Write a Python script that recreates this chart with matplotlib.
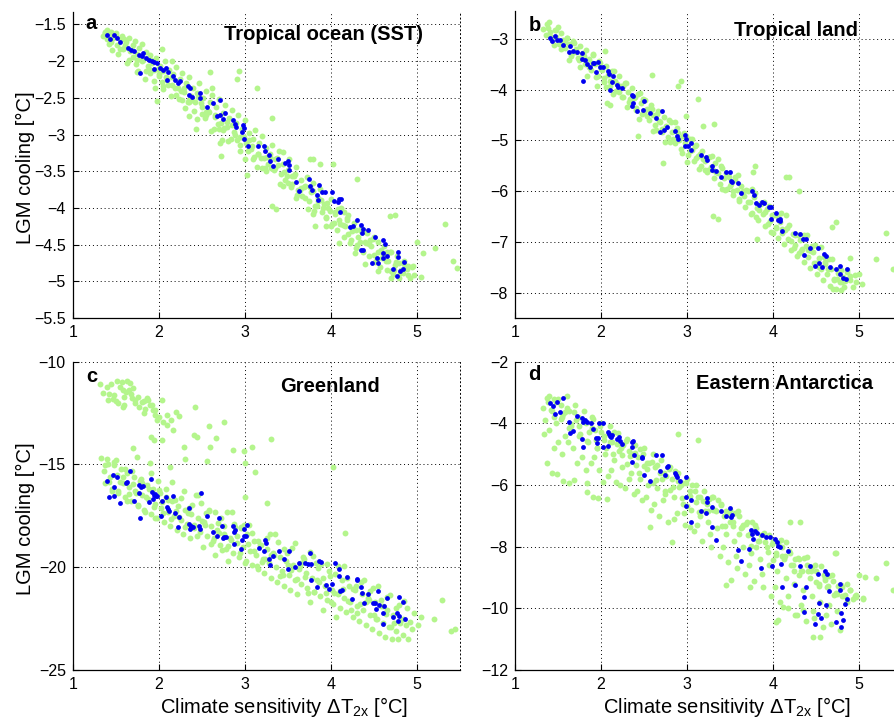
# LGM cooling vs climate sensitivity, four regions (scatter of ensemble members)

import matplotlib
matplotlib.use("Agg")
import matplotlib.pyplot as plt
from matplotlib.ticker import FuncFormatter

plt.rcParams["font.family"] = ["Liberation Sans", "DejaVu Sans"]
plt.rcParams["mathtext.fontset"] = "custom"
plt.rcParams["mathtext.rm"] = "Liberation Sans"
plt.rcParams["mathtext.it"] = "Liberation Sans"

GREEN = "#b4f58c"
BLUE = "#0000f0"

# ---- panel a: tropical ocean (SST) ----
a_blue = [(1.395,-1.65),(1.434,-1.695),(1.484,-1.65),(1.512,-1.69),(1.55,-1.74),(1.64,-1.82),(1.678,-1.85),
          (1.713,-1.864),(1.775,-1.91),(1.802,-1.93),(1.822,-1.895),(1.853,-1.955),(1.783,-2.168),(1.888,-1.986),
          (1.919,-2.0),(1.946,-2.014),(1.977,-2.023),(1.946,-2.105),(2.016,-2.09),(2.054,-2.114),(2.081,-2.09),
          (2.112,-2.15),(2.093,-2.25),(2.171,-2.205),(2.19,-2.25),(2.221,-2.295),(2.248,-2.273),(2.345,-2.34),
          (2.364,-2.364),(2.357,-2.455),(2.384,-2.49),(2.481,-2.43),(2.481,-2.5),(2.558,-2.623),(2.636,-2.568),
          (2.682,-2.75),(2.713,-2.727),(2.744,-2.786),(2.771,-2.705),(2.713,-2.523),(2.868,-2.795),(2.888,-2.85),
          (2.899,-2.895),(2.977,-2.864),(2.992,-2.91),(2.969,-2.968),(2.996,-3.059),(3.043,-3.15),(3.159,-3.159),
          (3.225,-3.15),(3.236,-3.227),(3.287,-3.273),(3.295,-3.364),(3.333,-3.432),(3.391,-3.34),(3.469,-3.386),
          (3.508,-3.36),(3.516,-3.41),(3.519,-3.477),(3.593,-3.65),(3.636,-3.768),(3.752,-3.605),(3.76,-3.705),
          (3.779,-3.76),(3.837,-3.818),(3.849,-3.886),(3.868,-3.682),(3.895,-3.786),(3.934,-3.786),(4.012,-3.786),
          (4.043,-3.905),(4.081,-3.923),(4.101,-3.877),(4.109,-4.05),(4.12,-3.877),(4.225,-4.259),(4.26,-4.25),
          (4.31,-4.159),(4.353,-4.232),(4.36,-4.34),(4.38,-4.286),(4.438,-4.305),(4.353,-4.577),(4.38,-4.577),
          (4.477,-4.75),(4.516,-4.395),(4.535,-4.682),(4.554,-4.75),(4.605,-4.44),(4.612,-4.614),(4.632,-4.486),
          (4.605,-4.682),(4.651,-4.65),(4.721,-4.832),(4.767,-4.932),(4.787,-4.605),(4.787,-4.668),(4.806,-4.864),
          (4.845,-4.832),(4.857,-4.741)]
a_green = [(1.35,-1.66),(1.38,-1.62),(1.40,-1.70),(1.43,-1.64),(1.45,-1.74),(1.47,-1.68),(1.50,-1.62),(1.52,-1.78),
           (1.55,-1.70),(1.57,-1.66),(1.60,-1.82),(1.62,-1.74),(1.65,-1.68),(1.67,-1.86),(1.70,-1.78),(1.72,-1.72),
           (1.75,-1.90),(1.77,-1.82),(1.80,-1.76),(1.82,-1.98),(1.85,-1.88),(1.87,-2.06),(1.90,-1.92),(1.92,-2.02),
           (1.95,-2.12),(1.97,-1.96),(2.00,-2.20),(2.02,-2.06),(2.05,-2.14),(2.07,-2.00),(2.10,-2.26),(2.12,-2.12),
           (2.15,-2.32),(2.17,-2.18),(2.20,-2.08),(2.22,-2.36),(2.25,-2.24),(2.27,-2.16),(2.30,-2.42),(2.32,-2.30),
           (2.35,-2.22),(2.37,-2.48),(2.40,-2.36),(2.42,-2.56),(2.45,-2.44),(2.47,-2.30),(2.50,-2.62),(2.52,-2.50),
           (2.55,-2.40),(2.57,-2.68),(2.60,-2.56),(2.62,-2.46),(2.65,-2.76),(2.67,-2.62),(2.70,-2.52),(2.72,-2.84),
           (2.75,-2.70),(2.77,-2.60),(2.80,-2.90),(2.82,-2.78),(2.85,-2.66),(2.87,-2.96),(2.90,-2.84),(2.92,-2.74),
           (2.95,-3.04),(2.97,-2.92),(3.00,-2.80),(3.02,-3.12),(3.05,-2.98),(3.07,-3.20),(3.10,-3.06),(3.12,-2.94),
           (3.15,-3.26),(3.17,-3.12),(3.20,-3.02),(3.22,-3.32),(3.25,-3.18),(3.27,-3.40),(3.30,-3.26),(3.32,-3.14),
           (3.35,-3.46),(3.37,-3.32),(3.40,-3.22),(3.42,-3.54),(3.45,-3.40),(3.47,-3.62),(3.50,-3.48),(3.52,-3.34),
           (3.55,-3.68),(3.57,-3.56),(3.60,-3.44),(3.62,-3.76),(3.65,-3.62),(3.67,-3.84),(3.70,-3.70),(3.72,-3.58),
           (3.75,-3.90),(3.77,-3.78),(3.80,-3.66),(3.82,-3.98),(3.85,-3.86),(3.87,-3.74),(3.90,-4.06),(3.92,-3.94),
           (3.95,-4.14),(3.97,-4.00),(4.00,-3.88),(4.02,-4.22),(4.05,-4.08),(4.07,-4.30),(4.10,-4.16),(4.12,-4.00),
           (4.15,-4.40),(4.17,-4.24),(4.20,-4.10),(4.22,-4.48),(4.25,-4.32),(4.27,-4.20),(4.30,-4.54),(4.32,-4.40),
           (4.35,-4.28),(4.37,-4.60),(4.40,-4.46),(4.42,-4.34),(4.45,-4.66),(4.47,-4.52),(4.50,-4.40),(4.52,-4.74),
           (4.55,-4.60),(4.57,-4.80),(4.60,-4.68),(4.62,-4.52),(4.65,-4.84),(4.67,-4.72),(4.70,-4.60),(4.72,-4.90),
           (4.75,-4.78),(4.77,-4.66),(4.80,-4.96),(4.82,-4.84),(4.85,-4.72),(4.88,-4.80),(4.90,-4.92),(4.95,-4.80),
           (1.45,-1.60),(1.60,-1.70),(1.75,-1.98),(1.90,-2.16),(2.05,-2.34),(2.15,-2.00),(2.35,-2.56),(2.55,-2.74),
           (2.62,-2.36),(2.75,-2.94),(2.95,-3.14),(3.10,-3.34),(3.25,-3.50),(3.45,-3.24),(3.60,-3.86),(3.80,-4.08),
           (3.95,-4.24),(4.10,-4.48),(4.28,-4.62),(4.40,-4.76),(4.55,-4.86),(4.70,-4.96),
           (2.035,-1.83),(2.597,-2.15),(2.938,-2.136),(2.907,-2.24),(3.14,-2.364),(2.713,-3.114),(2.725,-3.286),
           (3.031,-3.545),(3.314,-3.977),(3.364,-4.014),(3.818,-4.241),(4.186,-4.136),(4.302,-3.605),(4.69,-4.114),
           (4.748,-4.09),(5.329,-4.214),(5.213,-4.545),(5.078,-4.614),(5.419,-4.727),(5.473,-4.818),(5.0,-4.468),
           (5.047,-4.941),(4.961,-4.795),(4.903,-4.795),(1.977,-2.545),(1.744,-2.15),(2.349,-2.741),(2.438,-2.923),
           (2.267,-2.523),(3.76,-3.332),(3.80,-3.332),(4.03,-3.40),(3.87,-3.40),(3.314,-2.773)]
a_green_fill = [(1.37,-1.60),(1.42,-1.76),(1.48,-1.67),(1.53,-1.90),(1.58,-1.83),(1.63,-2.03),(1.69,-1.85),
                (1.74,-2.04),(1.79,-1.97),(1.84,-2.24),(1.89,-2.10),(1.94,-2.27),(1.99,-2.10),(2.04,-2.29),
                (2.09,-2.22),(2.14,-2.48),(2.19,-2.37),(2.24,-2.52),(2.29,-2.36),(2.34,-2.55),(2.39,-2.53),
                (2.44,-2.79),(2.49,-2.57),(2.54,-2.77),(2.59,-2.69),(2.64,-2.93),(2.69,-2.85),(2.74,-3.08),
                (2.79,-2.83),(2.84,-3.06),(2.89,-3.00),(2.94,-3.23),(2.99,-3.04),(3.04,-3.22),(3.09,-3.16),
                (3.14,-3.44),(3.19,-3.32),(3.24,-3.45),(3.29,-3.30),(3.34,-3.48),(3.39,-3.42),(3.44,-3.70),
                (3.49,-3.56),(3.54,-3.72),(3.59,-3.54),(3.64,-3.75),(3.69,-3.72),(3.74,-4.01),(3.79,-3.77),
                (3.84,-3.97),(3.89,-3.89),(3.94,-4.13),(3.99,-4.04),(4.04,-4.20),(4.09,-4.02),(4.14,-4.23),
                (4.19,-4.17),(4.24,-4.44),(4.29,-4.30),(4.34,-4.46),(4.39,-4.31),(4.44,-4.49),(4.49,-4.43),
                (4.54,-4.70),(4.59,-4.58),(4.64,-4.72),(4.69,-4.60),(4.74,-4.85),(4.79,-4.75),(4.84,-4.88),
                (4.89,-4.83),(4.97,-4.91),
                (1.395,-1.58),(1.455,-1.85),(1.505,-1.65),(1.555,-1.84),(1.605,-1.78),(1.655,-1.99),(1.705,-1.95),
                (1.755,-2.14),(1.805,-2.00),(1.855,-2.14),(1.905,-1.99),(1.955,-2.36),(2.005,-2.18),(2.055,-2.38),
                (2.105,-2.32),(2.155,-2.21),(2.205,-2.46),(2.255,-2.40),(2.305,-2.64),(2.355,-2.53),(2.405,-2.68),
                (2.455,-2.49),(2.505,-2.72),(2.555,-2.69),(2.605,-2.95),(2.655,-2.74),(2.705,-2.93),(2.755,-2.91),
                (2.805,-3.09),(2.855,-2.87),(2.905,-3.07),(2.955,-3.04),(3.005,-3.34),(3.055,-3.08),(3.105,-3.31),
                (3.155,-3.26),(3.205,-3.45),(3.255,-3.31),(3.305,-3.46),(3.355,-3.34),(3.405,-3.68),(3.455,-3.51),
                (3.505,-3.66),(3.555,-3.56),(3.605,-3.83),(3.655,-3.73),(3.705,-3.87),(3.755,-3.71),(3.805,-4.04),
                (3.855,-3.90),(3.905,-4.00),(3.955,-3.93),(4.005,-4.24),(4.055,-4.06),(4.105,-4.22),(4.155,-4.06),
                (4.205,-4.36),(4.255,-4.29),(4.305,-4.51),(4.355,-4.31),(4.405,-4.48),(4.455,-4.44),(4.505,-4.64),
                (4.555,-4.46),(4.605,-4.64),(4.655,-4.60),(4.705,-4.86),(4.755,-4.74),(4.805,-4.89),(4.855,-4.76),
                (4.925,-4.95)]

# ---- panel b: tropical land ----
b_blue = [(1.407,-2.987),(1.434,-3.033),(1.465,-2.934),(1.492,-3.026),(1.523,-3.026),(1.561,-3.118),(1.631,-3.25),
          (1.639,-3.145),(1.67,-3.23),(1.724,-3.263),(1.774,-3.283),(1.782,-3.395),(1.794,-3.822),(1.813,-3.408),
          (1.833,-3.493),(1.871,-3.559),(1.902,-3.474),(1.922,-3.48),(1.941,-3.645),(1.96,-3.461),(1.987,-3.559),
          (2.026,-3.559),(2.084,-3.625),(2.096,-3.691),(2.104,-4.007),(2.123,-3.855),(2.142,-3.737),(2.181,-3.908),
          (2.2,-3.954),(2.239,-3.974),(2.355,-4.105),(2.367,-4.132),(2.355,-4.329),(2.375,-4.263),(2.413,-4.421),
          (2.483,-4.401),(2.499,-4.217),(2.568,-4.461),(2.638,-4.553),(2.684,-4.829),(2.715,-4.414),(2.731,-4.789),
          (2.77,-4.743),(2.866,-4.816),(2.878,-4.921),(2.897,-4.974),(2.975,-4.895),(2.986,-4.974),(2.975,-5.105),
          (3.014,-5.105),(3.045,-5.059),(3.045,-5.184),(3.161,-5.289),(3.219,-5.336),(3.227,-5.388),(3.285,-5.513),
          (3.296,-5.579),(3.343,-5.599),(3.397,-5.717),(3.459,-5.618),(3.505,-5.632),(3.517,-5.796),(3.529,-5.829),
          (3.598,-5.849),(3.633,-6.046),(3.757,-5.993),(3.776,-6.079),(3.8,-6.237),(3.838,-6.276),(3.869,-6.211),
          (3.896,-6.224),(3.955,-6.303),(3.982,-6.322),(3.982,-6.553),(4.04,-6.421),(4.059,-6.566),(4.078,-6.553),
          (4.086,-6.592),(4.106,-6.783),(4.253,-6.816),(4.311,-6.836),(4.349,-6.947),(4.388,-6.934),(4.435,-7.112),
          (4.361,-7.263),(4.524,-7.118),(4.493,-7.474),(4.535,-7.408),(4.574,-7.487),(4.59,-7.243),(4.613,-7.276),
          (4.659,-7.487),(4.737,-7.526),(4.775,-7.474),(4.783,-7.638),(4.814,-7.704),(4.845,-7.737),(4.864,-7.539)]
b_green = [(1.33,-2.80),(1.36,-2.92),(1.38,-2.78),(1.41,-2.86),(1.43,-3.02),(1.46,-2.82),(1.48,-2.96),(1.51,-3.10),
           (1.53,-2.88),(1.56,-3.02),(1.58,-3.18),(1.61,-2.98),(1.63,-3.10),(1.66,-3.28),(1.68,-3.04),(1.71,-3.20),
           (1.73,-3.38),(1.76,-3.14),(1.78,-3.30),(1.81,-3.50),(1.83,-3.22),(1.86,-3.40),(1.88,-3.62),(1.91,-3.32),
           (1.93,-3.50),(1.96,-3.74),(1.98,-3.44),(2.01,-3.62),(2.03,-3.84),(2.06,-3.54),(2.08,-3.72),(2.11,-3.92),
           (2.13,-3.64),(2.16,-3.82),(2.18,-4.02),(2.21,-3.74),(2.23,-3.92),(2.26,-4.14),(2.28,-3.86),(2.31,-4.04),
           (2.33,-4.24),(2.36,-3.96),(2.38,-4.16),(2.41,-4.36),(2.43,-4.08),(2.46,-4.26),(2.48,-4.48),(2.51,-4.20),
           (2.53,-4.38),(2.56,-4.60),(2.58,-4.30),(2.61,-4.50),(2.63,-4.70),(2.66,-4.42),(2.68,-4.62),(2.71,-4.84),
           (2.73,-4.54),(2.76,-4.72),(2.78,-4.94),(2.81,-4.64),(2.83,-4.84),(2.86,-5.06),(2.88,-4.76),(2.91,-4.96),
           (2.93,-5.16),(2.96,-4.86),(2.98,-5.06),(3.01,-5.28),(3.03,-4.98),(3.06,-5.18),(3.08,-5.40),(3.11,-5.10),
           (3.13,-5.30),(3.16,-5.50),(3.18,-5.20),(3.21,-5.40),(3.23,-5.62),(3.26,-5.32),(3.28,-5.52),(3.31,-5.74),
           (3.33,-5.44),(3.36,-5.64),(3.38,-5.86),(3.41,-5.54),(3.43,-5.74),(3.46,-5.96),(3.48,-5.66),(3.51,-5.86),
           (3.53,-6.08),(3.56,-5.78),(3.58,-5.98),(3.61,-6.20),(3.63,-5.90),(3.66,-6.10),(3.68,-6.32),(3.71,-6.00),
           (3.73,-6.22),(3.76,-6.44),(3.78,-6.12),(3.81,-6.34),(3.83,-6.56),(3.86,-6.24),(3.88,-6.46),(3.91,-6.68),
           (3.93,-6.36),(3.96,-6.58),(3.98,-6.80),(4.01,-6.48),(4.03,-6.70),(4.06,-6.92),(4.08,-6.60),(4.11,-6.82),
           (4.13,-7.04),(4.16,-6.72),(4.18,-6.94),(4.21,-7.16),(4.23,-6.84),(4.26,-7.06),(4.28,-7.28),(4.31,-6.96),
           (4.33,-7.18),(4.36,-7.40),(4.38,-7.08),(4.41,-7.30),(4.43,-7.52),(4.46,-7.20),(4.48,-7.42),(4.51,-7.64),
           (4.53,-7.32),(4.56,-7.54),(4.58,-7.76),(4.61,-7.44),(4.63,-7.64),(4.66,-7.86),(4.68,-7.54),(4.71,-7.74),
           (4.73,-7.92),(4.76,-7.62),(4.78,-7.80),(4.81,-7.70),(4.83,-7.88),(4.86,-7.60),(4.90,-7.76),(4.95,-7.66),
           (2.588,-3.71),(2.936,-3.822),(2.897,-3.934),(3.13,-4.184),(3.316,-4.678),(2.073,-4.27),(2.10,-4.30),
           (2.43,-4.91),(2.72,-5.45),(3.30,-6.49),(3.36,-6.55),(3.815,-6.934),(4.30,-5.99),(4.737,-6.605),
           (4.69,-6.70),(5.317,-6.816),(5.2,-7.33),(5.40,-7.54),(5.04,-7.836),(5.0,-7.625),(4.89,-7.31),(4.70,-7.93),
           (4.79,-7.95),(3.79,-5.50),(3.77,-5.63),(4.19,-5.73),(4.15,-5.72),(3.188,-4.724),(2.994,-4.526),
           (2.045,-3.23)]
b_green_fill = [(1.37,-2.71),(1.42,-2.97),(1.48,-2.82),(1.53,-3.19),(1.58,-3.06),(1.63,-3.41),(1.69,-3.08),
                (1.74,-3.41),(1.79,-3.27),(1.84,-3.73),(1.89,-3.48),(1.94,-3.76),(1.99,-3.47),(2.04,-3.78),
                (2.09,-3.66),(2.14,-4.09),(2.19,-3.89),(2.24,-4.15),(2.29,-3.86),(2.34,-4.19),(2.39,-4.14),
                (2.44,-4.57),(2.49,-4.19),(2.54,-4.52),(2.59,-4.39),(2.64,-4.79),(2.69,-4.63),(2.74,-5.03),
                (2.79,-4.59),(2.84,-4.98),(2.89,-4.86),(2.94,-5.24),(2.99,-4.92),(3.04,-5.21),(3.09,-5.11),
                (3.14,-5.57),(3.19,-5.36),(3.24,-5.58),(3.29,-5.31),(3.34,-5.62),(3.39,-5.50),(3.44,-5.97),
                (3.49,-5.73),(3.54,-5.99),(3.59,-5.68),(3.64,-6.03),(3.69,-5.98),(3.74,-6.46),(3.79,-6.03),
                (3.84,-6.38),(3.89,-6.22),(3.94,-6.64),(3.99,-6.47),(4.04,-6.73),(4.09,-6.43),(4.14,-6.77),
                (4.19,-6.67),(4.24,-7.12),(4.29,-6.86),(4.34,-7.14),(4.39,-6.87),(4.44,-7.17),(4.49,-7.06),
                (4.54,-7.50),(4.59,-7.30),(4.64,-7.53),(4.69,-7.33),(4.74,-7.74),(4.79,-7.55),(4.84,-7.78),
                (4.89,-7.68),(4.97,-7.79),
                (1.395,-2.66),(1.455,-3.12),(1.505,-2.77),(1.555,-3.09),(1.605,-2.98),(1.655,-3.34),(1.705,-3.25),
                (1.755,-3.56),(1.805,-3.33),(1.855,-3.55),(1.905,-3.30),(1.955,-3.92),(2.005,-3.60),(2.055,-3.94),
                (2.105,-3.82),(2.155,-3.64),(2.205,-4.05),(2.255,-3.93),(2.305,-4.34),(2.355,-4.14),(2.405,-4.40),
                (2.455,-4.06),(2.505,-4.44),(2.555,-4.39),(2.605,-4.82),(2.655,-4.47),(2.705,-4.77),(2.755,-4.73),
                (2.805,-5.03),(2.855,-4.64),(2.905,-4.99),(2.955,-4.92),(3.005,-5.42),(3.055,-4.98),(3.105,-5.35),
                (3.155,-5.27),(3.205,-5.59),(3.255,-5.33),(3.305,-5.59),(3.355,-5.37),(3.405,-5.95),(3.455,-5.65),
                (3.505,-5.89),(3.555,-5.72),(3.605,-6.16),(3.655,-6.00),(3.705,-6.22),(3.755,-5.95),(3.805,-6.50),
                (3.855,-6.25),(3.905,-6.42),(3.955,-6.29),(4.005,-6.82),(4.055,-6.50),(4.105,-6.75),(4.155,-6.48),
                (4.205,-6.98),(4.255,-6.86),(4.305,-7.22),(4.355,-6.87),(4.405,-7.16),(4.455,-7.08),(4.505,-7.42),
                (4.555,-7.11),(4.605,-7.40),(4.655,-7.33),(4.705,-7.76),(4.755,-7.56),(4.805,-7.80),(4.855,-7.56),
                (4.925,-7.88)]

# ---- panel c: Greenland ----
c_blue = [(1.403,-15.805),(1.426,-16.567),(1.465,-15.513),(1.481,-16.535),(1.481,-16.113),(1.512,-15.627),
          (1.55,-16.859),(1.62,-15.886),(1.667,-15.302),(1.628,-15.838),(1.713,-16.762),(1.775,-16.0),(1.775,-16.373),
          (1.783,-17.589),(1.798,-16.081),(1.822,-16.048),(1.884,-16.843),(1.907,-15.724),(1.919,-16.324),
          (1.938,-16.697),(1.95,-16.486),(1.957,-16.454),(1.969,-16.535),(1.984,-16.535),(2.035,-16.762),
          (2.023,-17.491),(2.085,-16.567),(2.093,-17.086),(2.112,-17.183),(2.12,-17.248),(2.171,-16.535),
          (2.19,-17.378),(2.225,-18.027),(2.24,-17.54),(2.357,-17.135),(2.357,-17.897),(2.364,-18.156),(2.372,-18.059),
          (2.38,-17.994),(2.395,-18.059),(2.473,-17.994),(2.481,-18.124),(2.488,-16.373),(2.558,-17.508),
          (2.636,-18.302),(2.705,-17.589),(2.682,-18.481),(2.736,-17.994),(2.752,-18.594),(2.76,-18.513),
          (2.779,-18.546),(2.868,-17.994),(2.876,-18.27),(2.876,-18.87),(2.891,-18.189),(2.961,-19.129),(2.969,-18.675),
          (2.992,-18.481),(2.996,-18.156),(3.016,-18.481),(3.031,-17.945),(3.171,-19.048),(3.225,-19.194),
          (3.236,-18.675),(3.244,-18.838),(3.287,-19.583),(3.295,-19.891),(3.333,-19.454),(3.395,-19.194),
          (3.461,-19.616),(3.508,-20.07),(3.512,-19.194),(3.585,-19.973),(3.628,-19.81),(3.705,-19.81),(3.74,-19.859),
          (3.76,-19.324),(3.775,-20.621),(3.771,-19.843),(3.845,-20.945),(3.86,-19.697),(3.884,-19.762),(3.946,-20.864),
          (3.984,-21.075),(4.019,-20.832),(4.05,-19.81),(4.093,-20.102),(4.093,-20.427),(4.112,-21.156),(4.128,-21.124),
          (4.186,-20.459),(4.248,-21.562),(4.302,-20.556),(4.31,-20.621),(4.353,-20.978),(4.36,-21.254),(4.391,-21.724),
          (4.438,-21.302),(4.488,-21.756),(4.516,-21.724),(4.527,-22.048),(4.547,-21.156),(4.566,-21.837),
          (4.605,-22.21),(4.605,-22.762),(4.624,-21.886),(4.651,-21.513),(4.721,-22.437),(4.767,-22.21),(4.779,-22.616),
          (4.795,-21.432),(4.798,-22.372),(4.837,-21.675),(4.864,-22.535)]
c_green = [(1.33,-14.70),(1.36,-15.30),(1.38,-15.90),(1.41,-15.00),(1.43,-15.60),(1.46,-16.20),(1.48,-14.90),
           (1.51,-15.50),(1.53,-16.40),(1.56,-15.20),(1.58,-15.90),(1.61,-16.60),(1.63,-15.40),(1.66,-16.10),
           (1.68,-16.80),(1.71,-15.60),(1.73,-16.30),(1.76,-17.00),(1.78,-15.80),(1.81,-16.50),(1.83,-17.20),
           (1.86,-16.00),(1.88,-16.70),(1.91,-17.40),(1.93,-16.20),(1.96,-16.90),(1.98,-17.60),(2.01,-16.40),
           (2.03,-17.10),(2.06,-17.80),(2.08,-16.60),(2.11,-17.30),(2.13,-18.00),(2.16,-16.80),(2.18,-17.50),
           (2.21,-18.20),(2.23,-17.00),(2.26,-17.70),(2.28,-18.40),(2.31,-17.20),(2.33,-17.90),(2.36,-18.60),
           (2.38,-17.40),(2.41,-18.10),(2.43,-16.50),(2.46,-17.60),(2.48,-18.30),(2.51,-19.00),(2.53,-17.80),
           (2.56,-18.50),(2.58,-17.20),(2.61,-18.00),(2.63,-18.70),(2.66,-19.40),(2.68,-18.20),(2.71,-18.90),
           (2.73,-17.60),(2.76,-18.40),(2.78,-19.10),(2.81,-19.70),(2.83,-18.60),(2.86,-19.30),(2.88,-17.90),
           (2.91,-18.80),(2.93,-19.50),(2.96,-18.10),(2.98,-19.00),(3.01,-19.70),(3.03,-18.40),(3.06,-19.20),
           (3.08,-19.90),(3.11,-18.70),(3.13,-19.40),(3.16,-20.10),(3.18,-18.90),(3.21,-19.60),(3.23,-20.30),
           (3.26,-19.10),(3.28,-19.80),(3.31,-20.50),(3.33,-19.30),(3.36,-20.00),(3.38,-20.70),(3.41,-19.50),
           (3.43,-20.20),(3.46,-20.90),(3.48,-19.70),(3.51,-20.40),(3.53,-21.10),(3.56,-19.90),(3.58,-20.60),
           (3.61,-21.30),(3.63,-20.10),(3.66,-20.80),(3.68,-19.50),(3.71,-20.30),(3.73,-21.00),(3.76,-21.70),
           (3.78,-20.50),(3.81,-21.20),(3.83,-19.80),(3.86,-20.70),(3.88,-21.40),(3.91,-22.10),(3.93,-20.90),
           (3.96,-21.60),(3.98,-20.20),(4.01,-21.10),(4.03,-21.80),(4.06,-22.40),(4.08,-21.30),(4.11,-22.00),
           (4.13,-20.60),(4.16,-21.50),(4.18,-22.20),(4.21,-20.90),(4.23,-21.70),(4.26,-22.40),(4.28,-21.10),
           (4.31,-21.90),(4.33,-22.60),(4.36,-21.30),(4.38,-22.10),(4.41,-22.80),(4.43,-21.50),(4.46,-22.30),
           (4.48,-23.00),(4.51,-21.70),(4.53,-22.50),(4.56,-23.20),(4.58,-21.90),(4.61,-22.70),(4.63,-23.40),
           (4.66,-22.10),(4.68,-22.90),(4.71,-23.50),(4.73,-22.30),(4.76,-23.10),(4.78,-23.50),(4.81,-22.60),
           (4.84,-23.30),(4.87,-22.80),(4.90,-23.50),(4.95,-23.00),(5.02,-22.80),(5.05,-22.40),(5.20,-22.50),
           (5.40,-23.10),(5.45,-23.00),(5.30,-21.60),
           (1.318,-11.09),(1.395,-11.22),(1.512,-10.92),(1.57,-10.97),(1.59,-11.38),(1.62,-11.46),(1.65,-11.38),
           (1.667,-11.02),(1.415,-11.86),(1.465,-11.83),(1.53,-12.03),(1.597,-12.11),(1.686,-11.78),(1.725,-11.86),
           (1.775,-12.19),(1.83,-11.90),(1.86,-11.78),(1.90,-12.11),(1.93,-12.35),(1.957,-12.59),(1.977,-12.84),
           (2.035,-11.86),(2.093,-13.08),(2.14,-12.84),(2.20,-12.43),(2.24,-12.64),(2.42,-12.19),(2.44,-13.65),
           (2.41,-13.57),(1.94,-13.81),(1.91,-13.65),(2.035,-13.81),(2.17,-13.32),(2.29,-14.13),(2.59,-13.13),
           (2.667,-13.70),(2.76,-12.92),(2.60,-14.13),(2.868,-14.30),(2.99,-14.33),(3.09,-14.13),(3.31,-13.75),
           (3.00,-14.95),(3.12,-15.38),(2.31,-14.75),(1.705,-14.22),(1.744,-14.62),(1.90,-14.95),(2.13,-15.14),
           (2.56,-14.82),(4.03,-15.11),(3.00,-16.57),(3.256,-16.86),(4.17,-18.35),
           (1.35,-11.50),(1.44,-11.10),(1.48,-11.60),(1.55,-11.25),(1.60,-11.70),(1.63,-10.95),(1.68,-11.55),
           (1.72,-12.00),(1.76,-11.70),(1.80,-11.95),(1.84,-12.30),(1.88,-11.85),(1.92,-12.10),(1.96,-12.35),
           (2.00,-12.70),(1.50,-11.90),(1.42,-11.55),(1.58,-12.20),(1.70,-11.30),(1.83,-12.50),(2.05,-12.95),
           (2.10,-12.60)]
c_green_fill = [(1.37,-15.01),(1.42,-15.83),(1.48,-15.04),(1.53,-16.31),(1.58,-15.63),(1.63,-16.77),(1.69,-15.33),
                (1.74,-16.41),(1.79,-15.72),(1.84,-17.32),(1.89,-16.18),(1.94,-17.07),(1.99,-15.80),(2.04,-16.81),
                (2.09,-16.19),(2.14,-17.66),(2.19,-16.72),(2.24,-17.54),(2.29,-16.27),(2.34,-17.35),(2.39,-16.99),
                (2.44,-18.46),(2.49,-16.86),(2.54,-17.94),(2.59,-17.26),(2.64,-18.60),(2.69,-17.85),(2.74,-19.18),
                (2.79,-17.33),(2.84,-18.67),(2.89,-18.05),(2.94,-19.33),(2.99,-17.93),(3.04,-18.88),(3.09,-18.32),
                (3.14,-19.92),(3.19,-18.91),(3.24,-19.60),(3.29,-18.40),(3.34,-19.41),(3.39,-18.79),(3.44,-20.39),
                (3.49,-19.32),(3.54,-20.14),(3.59,-18.80),(3.64,-19.95),(3.69,-19.59),(3.74,-21.25),(3.79,-19.46),
                (3.84,-20.61),(3.89,-19.86),(3.94,-21.26),(3.99,-20.45),(4.04,-21.27),(4.09,-19.93),(4.14,-21.08),
                (4.19,-20.52),(4.24,-22.06),(4.29,-20.92),(4.34,-21.80),(4.39,-20.60),(4.44,-21.61),(4.49,-20.99),
                (4.54,-22.53),(4.59,-21.58),(4.64,-22.27),(4.69,-21.33),(4.74,-22.73),(4.79,-21.85),(4.84,-22.54),
                (4.89,-21.99),(4.97,-22.21),
                (1.395,-14.74),(1.455,-16.29),(1.505,-14.76),(1.555,-15.84),(1.605,-15.22),(1.655,-16.43),
                (1.705,-15.94),(1.755,-16.96),(1.805,-15.88),(1.855,-16.57),(1.905,-15.43),(1.955,-17.61),
                (2.005,-16.22),(2.055,-17.36),(2.105,-16.74),(2.155,-15.87),(2.205,-17.27),(2.255,-16.65),
                (2.305,-18.06),(2.355,-17.11),(2.405,-17.93),(2.455,-16.47),(2.505,-17.74),(2.555,-17.38),
                (2.605,-18.85),(2.655,-17.32),(2.705,-18.34),(2.755,-17.98),(2.805,-18.99),(2.855,-17.33),
                (2.905,-18.48),(2.955,-18.05),(3.005,-19.78),(3.055,-17.93),(3.105,-19.20),(3.155,-18.71),
                (3.205,-19.73),(3.255,-18.59),(3.305,-19.41),(3.355,-18.40),(3.405,-20.45),(3.455,-19.12),
                (3.505,-19.87),(3.555,-19.06),(3.605,-20.59),(3.655,-19.78),(3.705,-20.47),(3.755,-19.26),
                (3.805,-21.19),(3.855,-20.05),(3.905,-20.54),(3.955,-19.86),(4.005,-21.71),(4.055,-20.32),
                (4.105,-21.14),(4.155,-19.93),(4.205,-21.66),(4.255,-21.04),(4.305,-22.25),(4.355,-20.72),
                (4.405,-21.67),(4.455,-21.18),(4.505,-22.33),(4.555,-20.93),(4.605,-21.88),(4.655,-21.45),
                (4.705,-22.92),(4.755,-21.98),(4.805,-22.73),(4.855,-21.66),(4.925,-22.65)]

# ---- panel d: Eastern Antarctica ----
d_blue = [(1.407,-3.351),(1.438,-3.438),(1.484,-3.308),(1.469,-3.697),(1.523,-3.632),(1.554,-3.178),(1.631,-3.957),
          (1.639,-4.324),(1.67,-4.238),(1.716,-3.762),(1.774,-3.816),(1.786,-3.946),(1.778,-4.497),(1.794,-4.757),
          (1.817,-3.892),(1.833,-3.968),(1.887,-3.978),(1.91,-4.195),(1.941,-4.486),(1.956,-4.649),(1.968,-4.465),
          (1.98,-3.989),(2.026,-4.0),(2.026,-4.778),(2.08,-4.27),(2.096,-4.346),(2.104,-4.4),(2.08,-4.735),
          (2.111,-4.454),(2.123,-4.389),(2.181,-4.519),(2.212,-4.432),(2.22,-4.562),(2.239,-4.67),(2.355,-4.778),
          (2.363,-4.616),(2.367,-4.573),(2.355,-5.243),(2.382,-5.027),(2.471,-5.135),(2.479,-5.081),(2.499,-5.686),
          (2.568,-5.881),(2.638,-5.038),(2.684,-5.557),(2.715,-5.038),(2.742,-5.676),(2.762,-5.405),(2.781,-5.384),
          (2.859,-5.6),(2.87,-5.686),(2.886,-5.751),(2.917,-5.859),(2.986,-5.73),(2.994,-6.378),(2.994,-6.67),
          (3.041,-6.486),(3.052,-7.189),(3.157,-6.832),(3.219,-6.919),(3.227,-6.411),(3.234,-6.562),(3.288,-6.703),
          (3.296,-7.373),(3.343,-7.784),(3.397,-6.832),(3.459,-6.995),(3.505,-6.735),(3.517,-7.027),(3.529,-6.962),
          (3.594,-8.108),(3.633,-8.454),(3.722,-8.076),(3.749,-7.459),(3.761,-7.589),(3.769,-7.762),(3.792,-7.481),
          (3.815,-7.568),(3.862,-8.681),(3.877,-7.622),(3.916,-7.676),(3.962,-7.697),(3.986,-8.627),(4.021,-7.762),
          (4.051,-7.838),(4.059,-7.978),(4.086,-8.0),(4.098,-8.562),(4.106,-9.319),(4.175,-8.141),(4.253,-9.254),
          (4.311,-8.627),(4.361,-9.622),(4.361,-10.108),(4.388,-9.297),(4.427,-8.627),(4.485,-10.508),(4.524,-8.886),
          (4.535,-9.838),(4.524,-10.184),(4.562,-10.303),(4.601,-8.778),(4.613,-9.903),(4.628,-8.886),(4.652,-9.427),
          (4.775,-9.211),(4.783,-9.405),(4.795,-10.141),(4.795,-10.595),(4.814,-10.378),(4.834,-9.859),(4.864,-9.686),
          (4.737,-10.432)]
d_green = [(1.33,-3.50),(1.35,-3.90),(1.38,-3.30),(1.40,-4.20),(1.43,-3.60),(1.45,-3.20),(1.48,-4.00),(1.50,-4.60),
           (1.53,-3.40),(1.55,-3.80),(1.58,-4.40),(1.60,-3.10),(1.63,-3.60),(1.65,-4.10),(1.68,-4.80),(1.70,-3.40),
           (1.73,-3.80),(1.75,-4.40),(1.78,-5.10),(1.80,-3.60),(1.83,-4.00),(1.85,-4.60),(1.88,-5.30),(1.90,-3.80),
           (1.93,-4.20),(1.95,-4.80),(1.98,-5.50),(2.00,-4.00),(2.03,-4.40),(2.05,-5.00),(2.08,-5.70),(2.10,-4.10),
           (2.13,-4.60),(2.15,-5.20),(2.18,-5.90),(2.20,-4.30),(2.23,-4.80),(2.25,-5.40),(2.28,-6.10),(2.30,-4.50),
           (2.33,-4.90),(2.35,-5.60),(2.38,-6.30),(2.40,-4.70),(2.43,-5.10),(2.45,-5.80),(2.48,-6.50),(2.50,-4.80),
           (2.53,-5.30),(2.55,-6.00),(2.58,-6.80),(2.60,-5.00),(2.63,-5.40),(2.65,-6.10),(2.68,-7.00),(2.70,-5.20),
           (2.73,-5.60),(2.75,-6.30),(2.78,-7.20),(2.80,-5.40),(2.83,-5.80),(2.85,-6.40),(2.88,-6.90),(2.90,-5.60),
           (2.93,-6.00),(2.95,-6.60),(2.98,-7.30),(3.00,-5.80),(3.03,-6.20),(3.05,-6.80),(3.08,-7.50),(3.10,-6.00),
           (3.13,-6.40),(3.15,-7.00),(3.18,-7.80),(3.20,-6.20),(3.23,-6.60),(3.25,-7.20),(3.28,-8.00),(3.30,-6.40),
           (3.33,-6.80),(3.35,-7.40),(3.38,-8.30),(3.40,-6.60),(3.43,-7.00),(3.45,-7.60),(3.48,-8.50),(3.50,-6.80),
           (3.53,-7.20),(3.55,-7.80),(3.58,-8.70),(3.60,-7.00),(3.63,-7.40),(3.65,-8.00),(3.68,-8.90),(3.70,-7.20),
           (3.73,-7.60),(3.75,-8.20),(3.78,-9.10),(3.80,-7.40),(3.83,-7.80),(3.85,-8.40),(3.88,-9.30),(3.90,-7.60),
           (3.93,-8.00),(3.95,-8.60),(3.98,-9.60),(4.00,-7.80),(4.03,-8.20),(4.05,-8.80),(4.08,-9.80),(4.10,-8.00),
           (4.13,-8.40),(4.15,-9.00),(4.18,-10.00),(4.20,-8.20),(4.23,-8.60),(4.25,-9.20),(4.28,-10.20),(4.30,-8.40),
           (4.33,-8.80),(4.35,-9.40),(4.38,-10.40),(4.40,-8.60),(4.43,-9.00),(4.45,-9.60),(4.48,-10.30),(4.50,-8.80),
           (4.53,-9.20),(4.55,-9.80),(4.58,-10.60),(4.60,-9.00),(4.63,-9.30),(4.65,-9.90),(4.68,-10.50),(4.70,-9.10),
           (4.73,-9.50),(4.75,-10.10),(4.78,-10.70),(4.80,-9.30),(4.83,-9.60),(4.86,-9.80),(4.90,-9.40),(4.95,-9.60),
           (5.05,-9.70),
           (1.337,-4.357),(1.368,-5.276),(1.426,-5.622),(1.492,-5.643),(1.561,-5.859),(1.631,-5.946),(1.685,-5.838),
           (1.833,-5.946),(1.91,-6.378),(1.968,-6.432),(2.065,-6.465),(1.84,-6.216),(2.897,-4.346),(3.13,-4.54),
           (3.033,-7.35),(2.82,-7.84),(2.568,-7.35),(3.459,-9.243),(3.517,-9.08),(3.73,-9.30),(4.03,-10.43),
           (4.06,-10.38),(4.117,-9.946),(4.466,-10.92),(4.543,-10.94),(4.195,-7.19),(4.311,-7.189),(4.717,-8.216),
           (4.737,-8.195),(5.317,-8.54),(5.20,-9.027),(5.394,-9.405),(5.0,-8.92),(5.066,-8.995),(4.97,-9.62),
           (5.046,-9.676),(4.349,-10.05),(4.253,-10.22),
           (1.45,-4.80),(1.55,-5.00),(1.62,-4.60),(1.72,-5.30),(1.82,-5.50),(1.92,-5.10),(2.02,-5.90),(2.12,-5.50),
           (2.22,-6.00),(2.32,-5.80),(2.42,-6.20),(2.52,-6.40),(2.62,-6.60),(2.72,-6.50),(2.85,-7.10),(2.97,-6.90),
           (3.12,-7.30),(3.27,-7.60),(3.42,-8.00),(3.57,-8.30),(3.72,-8.60),(3.87,-8.90),(4.02,-9.30),(4.17,-9.60),
           (4.32,-9.90),(4.47,-10.10),(4.62,-10.20)]
d_green_fill = [(1.37,-3.19),(1.42,-3.56),(1.48,-3.30),(1.53,-3.86),(1.58,-3.64),(1.63,-4.14),(1.69,-3.62),
                (1.74,-4.10),(1.79,-3.88),(1.84,-4.57),(1.89,-4.16),(1.94,-4.55),(1.99,-4.10),(2.04,-4.55),
                (2.09,-4.36),(2.14,-4.99),(2.19,-4.67),(2.24,-5.04),(2.29,-4.58),(2.34,-5.06),(2.39,-4.96),
                (2.44,-5.60),(2.49,-5.01),(2.54,-5.49),(2.59,-5.26),(2.64,-5.85),(2.69,-5.60),(2.74,-6.18),
                (2.79,-5.49),(2.84,-6.08),(2.89,-5.88),(2.94,-6.43),(2.99,-5.92),(3.04,-6.35),(3.09,-6.18),
                (3.14,-6.87),(3.19,-6.51),(3.24,-6.83),(3.29,-6.40),(3.34,-6.85),(3.39,-6.66),(3.44,-7.34),
                (3.49,-6.97),(3.54,-7.34),(3.59,-6.85),(3.64,-7.36),(3.69,-7.26),(3.74,-7.98),(3.79,-7.31),
                (3.84,-7.82),(3.89,-7.57),(3.94,-8.17),(3.99,-7.90),(4.04,-8.27),(4.09,-7.79),(4.14,-8.30),
                (4.19,-8.13),(4.24,-8.79),(4.29,-8.38),(4.34,-8.78),(4.39,-8.35),(4.44,-8.80),(4.49,-8.61),
                (4.54,-9.27),(4.59,-8.93),(4.64,-9.26),(4.69,-8.93),(4.74,-9.54),(4.79,-9.24),(4.84,-9.56),
                (4.89,-9.39),(4.97,-9.56),
                (1.395,-3.10),(1.455,-3.78),(1.505,-3.21),(1.555,-3.69),(1.605,-3.50),(1.655,-4.03),(1.705,-3.88),
                (1.755,-4.34),(1.805,-3.96),(1.855,-4.27),(1.905,-3.87),(1.955,-4.79),(2.005,-4.28),(2.055,-4.79),
                (2.105,-4.59),(2.155,-4.28),(2.205,-4.89),(2.255,-4.70),(2.305,-5.31),(2.355,-4.98),(2.405,-5.36),
                (2.455,-4.82),(2.505,-5.37),(2.555,-5.28),(2.605,-5.92),(2.655,-5.36),(2.705,-5.81),(2.755,-5.72),
                (2.805,-6.17),(2.855,-5.55),(2.905,-6.06),(2.955,-5.94),(3.005,-6.68),(3.055,-5.99),(3.105,-6.55),
                (3.155,-6.39),(3.205,-6.85),(3.255,-6.44),(3.305,-6.82),(3.355,-6.47),(3.405,-7.34),(3.455,-6.85),
                (3.505,-7.19),(3.555,-6.92),(3.605,-7.58),(3.655,-7.31),(3.705,-7.63),(3.755,-7.20),(3.805,-8.02),
                (3.855,-7.61),(3.905,-7.85),(3.955,-7.63),(4.005,-8.42),(4.055,-7.91),(4.105,-8.29),(4.155,-7.85),
                (4.205,-8.59),(4.255,-8.39),(4.305,-8.93),(4.355,-8.37),(4.405,-8.79),(4.455,-8.65),(4.505,-9.15),
                (4.555,-8.64),(4.605,-9.07),(4.655,-8.95),(4.705,-9.58),(4.755,-9.26),(4.805,-9.61),(4.855,-9.22),
                (4.925,-9.69)]

titles = ["Tropical ocean (SST)", "Tropical land", "Greenland", "Eastern Antarctica"]
letters = ["a", "b", "c", "d"]
ylims = [(-5.5, -1.33), (-8.5, -2.45), (-25, -10), (-12, -2)]
yticks = [[-5.5, -5, -4.5, -4, -3.5, -3, -2.5, -2, -1.5], [-8, -7, -6, -5, -4, -3],
          [-25, -20, -15, -10], [-12, -10, -8, -6, -4, -2]]
xticks = [1, 2, 3, 4, 5]

W, H = 895, 722
fig = plt.figure(figsize=(W / 100, H / 100), dpi=100)

# axes boxes in pixels: left, top, right, bottom
boxes = [(72.7, 12, 459.7, 318), (515, 11, 902, 318), (72.7, 361.7, 459.7, 670), (515, 361.7, 902, 670)]
title_pos = [(0.905, 0.928), (0.886, 0.935), (0.794, 0.921), (0.924, 0.928)]
letter_pos = [(0.034, 0.964), (0.036, 0.954), (0.034, 0.951), (0.034, 0.957)]

fmt = FuncFormatter(lambda v, p: ("%g" % v).replace("-", "\u2212"))

data = [(a_green + a_green_fill, a_blue), (b_green + b_green_fill, b_blue),
        (c_green + c_green_fill, c_blue), (d_green + d_green_fill, d_blue)]

for i, (l, t, r, b) in enumerate(boxes):
    ax = fig.add_axes([l / W, (H - b) / H, (r - l) / W, (b - t) / H])
    green, blue = data[i]
    gx, gy = zip(*green)
    bx, by = zip(*blue)
    ax.scatter(gx, gy, s=18, color=GREEN, linewidths=0, zorder=2)
    ax.scatter(bx, by, s=12, color=BLUE, linewidths=0, zorder=3)

    ax.set_xlim(1, 5.5)
    ax.set_ylim(*ylims[i])
    ax.set_xticks(xticks)
    ax.set_yticks(yticks[i])
    ax.yaxis.set_major_formatter(fmt)
    ax.xaxis.set_major_formatter(fmt)
    ax.tick_params(direction="in", length=4, labelsize=11.5, width=0.8, pad=5)
    ax.grid(True, color="black", linestyle=(0, (1, 3)), linewidth=0.7, zorder=1)
    ax.set_axisbelow(True)
    ax.spines["top"].set_visible(False)
    ax.spines["right"].set_linestyle((0, (1, 3)))
    ax.spines["right"].set_linewidth(0.7)
    ax.spines["left"].set_linewidth(0.9)
    ax.spines["bottom"].set_linewidth(0.9)

    ax.text(title_pos[i][0], title_pos[i][1], titles[i], transform=ax.transAxes,
            ha="right", va="center", fontsize=14.5, fontweight="bold")
    ax.text(letter_pos[i][0], letter_pos[i][1], letters[i], transform=ax.transAxes,
            ha="left", va="center", fontsize=14.5, fontweight="bold")

    if i in (0, 2):
        ax.set_ylabel("LGM cooling [°C]", fontsize=14.5)
        ax.yaxis.set_label_coords(-0.097, 0.49)
    if i in (2, 3):
        ax.set_xlabel(r"Climate sensitivity $\Delta\mathrm{T}_{\mathrm{2x}}$ [°C]", fontsize=14.5)
        ax.xaxis.set_label_coords(0.547, -0.082)

fig.savefig("out.png", dpi=100)
